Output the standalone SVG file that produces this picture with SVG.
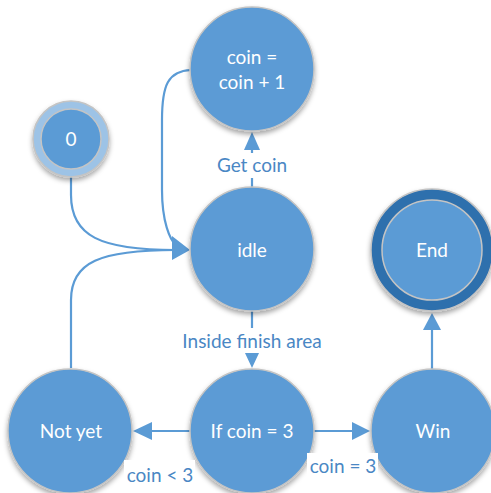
<svg xmlns="http://www.w3.org/2000/svg" width="491" height="493" viewBox="0 0 491 493">
  <style>
    .node { fill: #5b9bd5; stroke: #c4c4c4; stroke-width: 1.5; }
    .ring { fill: #9dc3e6; stroke: #c4c4c4; stroke-width: 1.5; }
    .endring { fill: #2e6fad; stroke: #c4c4c4; stroke-width: 1.5; }
    .ntext { font-family: Lato, "Open Sans", sans-serif; font-size: 19px; fill: #ffffff; text-anchor: middle; }
    .lbl { font-family: Lato, "Open Sans", sans-serif; font-size: 19px; fill: #4a87c4; text-anchor: middle; }
    .edge { fill: none; stroke: #5b9bd5; stroke-width: 2.2; }
    .head { fill: #5b9bd5; }
  </style>
  <defs>
    <filter id="shadow" x="-30%" y="-30%" width="160%" height="170%">
      <feDropShadow dx="0" dy="3" stdDeviation="2.5" flood-color="#000000" flood-opacity="0.35"/>
    </filter>
  </defs>
  <rect width="491" height="493" fill="#ffffff"/>

  <!-- transitions -->
  <g id="connectors">
    <!-- idle -> coin = coin + 1 -->
    <line class="edge" x1="252" y1="187" x2="252" y2="148"/>
    <polygon class="head" points="252,132 244,150 260,150"/>
    <!-- coin = coin + 1 -> idle -->
    <path class="edge" d="M191,70 C168,71 162,85 162,120 L162,190 C162,222 170,240 176,245"/>
    <!-- start -> idle -->
    <path class="edge" d="M71,177 L71,195 C71,236 100,250 176,250"/>
    <!-- Not yet -> idle -->
    <path class="edge" d="M71,368 L71,300 C71,262 100,250 176,250"/>
    <polygon class="head" points="190,250 172,236 172,260"/>
    <!-- idle -> If coin = 3 -->
    <line class="edge" x1="252" y1="311" x2="252" y2="355"/>
    <polygon class="head" points="252,368 245,353 259,353"/>
    <!-- If coin = 3 -> Not yet -->
    <line class="edge" x1="191" y1="431" x2="150" y2="431"/>
    <polygon class="head" points="133,431 152,422 152,440"/>
    <!-- If coin = 3 -> Win -->
    <line class="edge" x1="313" y1="431" x2="354" y2="431"/>
    <polygon class="head" points="370,431 352,422 352,440"/>
    <!-- Win -> End -->
    <line class="edge" x1="432" y1="369" x2="432" y2="328"/>
    <polygon class="head" points="432,313 423,330 441,330"/>
  </g>

  <g id="node-coin">
    <circle class="node" cx="252" cy="69" r="62" filter="url(#shadow)"/>
    <text class="ntext" x="252" y="64">coin =</text>
    <text class="ntext" x="252" y="89">coin + 1</text>
  </g>

  <g id="node-start">
    <circle class="ring" cx="71" cy="139" r="38" filter="url(#shadow)"/>
    <circle class="node" cx="71" cy="139" r="30"/>
    <text class="ntext" x="71" y="146">0</text>
  </g>

  <g id="node-idle">
    <circle class="node" cx="252" cy="249" r="62" filter="url(#shadow)"/>
    <text class="ntext" x="252" y="257">idle</text>
  </g>

  <g id="node-end">
    <circle class="endring" cx="432" cy="250" r="61" filter="url(#shadow)"/>
    <circle class="node" cx="432" cy="250" r="50"/>
    <text class="ntext" x="432" y="257">End</text>
  </g>

  <g id="node-notyet">
    <circle class="node" cx="70" cy="431" r="62" filter="url(#shadow)"/>
    <text class="ntext" x="71" y="438">Not yet</text>
  </g>

  <g id="node-ifcoin">
    <circle class="node" cx="252" cy="431" r="62" filter="url(#shadow)"/>
    <text class="ntext" x="252" y="438">If coin = 3</text>
  </g>

  <g id="node-win">
    <circle class="node" cx="433" cy="431" r="62" filter="url(#shadow)"/>
    <text class="ntext" x="433" y="438">Win</text>
  </g>

  <!-- transition labels -->
  <g id="labels">
    <rect x="206" y="153" width="92" height="25" fill="#ffffff"/>
    <text class="lbl" x="252" y="172">Get coin</text>
    <rect x="176" y="328" width="152" height="25" fill="#ffffff"/>
    <text class="lbl" x="252" y="348">Inside finish area</text>
    <rect x="124" y="460" width="71" height="33" fill="#ffffff"/>
    <text class="lbl" x="160" y="482">coin &lt; 3</text>
    <rect x="307" y="453" width="71" height="26" fill="#ffffff"/>
    <text class="lbl" x="343" y="473">coin = 3</text>
  </g>
</svg>
